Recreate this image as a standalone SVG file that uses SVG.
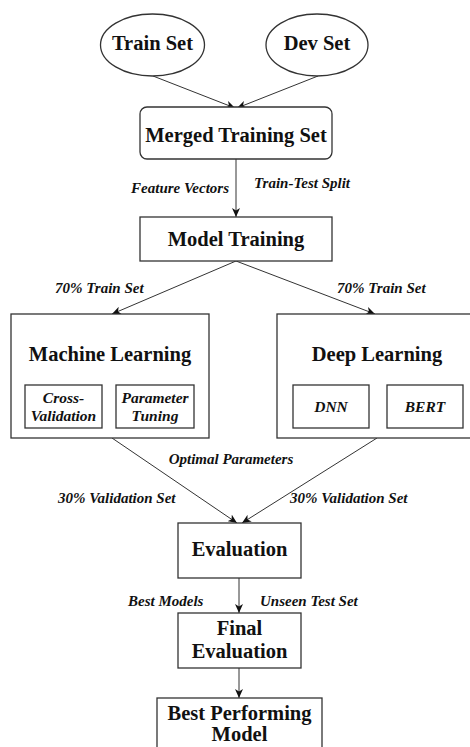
<svg xmlns="http://www.w3.org/2000/svg" width="470" height="747" viewBox="0 0 470 747">
<defs>
<marker id="ah" markerWidth="10" markerHeight="8" refX="9" refY="4" orient="auto" markerUnits="userSpaceOnUse">
<path d="M0,0 L9,4 L0,8 L2.5,4 Z" fill="#111"/>
</marker>
</defs>
<style>
.n{fill:#fff;stroke:#333;stroke-width:1.3}
text{font-family:'Liberation Serif','DejaVu Serif',serif;font-weight:bold;fill:#111}
.t{font-size:20.5px;text-anchor:middle}
.s{font-style:italic;font-size:15.5px;text-anchor:middle}
.l{font-style:italic;font-size:15px}
.c{fill:none;stroke:#333;stroke-width:1}
</style>
<rect width="470" height="747" fill="#fff"/>
<g id="connectors">
<line class="c" x1="153" y1="76" x2="235" y2="108" marker-end="url(#ah)"/>
<line class="c" x1="318" y1="76" x2="237" y2="108" marker-end="url(#ah)"/>
<line class="c" x1="236" y1="159" x2="236" y2="217" marker-end="url(#ah)"/>
<line class="c" x1="236" y1="261" x2="112" y2="314" marker-end="url(#ah)"/>
<line class="c" x1="236" y1="261" x2="375" y2="314" marker-end="url(#ah)"/>
<line class="c" x1="112" y1="438" x2="237" y2="523" marker-end="url(#ah)"/>
<line class="c" x1="377" y1="438" x2="242" y2="523" marker-end="url(#ah)"/>
<line class="c" x1="239" y1="578" x2="239" y2="613" marker-end="url(#ah)"/>
<line class="c" x1="239" y1="668" x2="239" y2="698" marker-end="url(#ah)"/>
<text class="l" x="229" y="193" text-anchor="end">Feature Vectors</text>
<text class="l" x="254" y="188">Train-Test Split</text>
<text class="l" x="55" y="293">70% Train Set</text>
<text class="l" x="337" y="293">70% Train Set</text>
<text class="l" x="231" y="464" text-anchor="middle">Optimal Parameters</text>
<text class="l" x="58" y="503">30% Validation Set</text>
<text class="l" x="290" y="503">30% Validation Set</text>
<text class="l" x="128" y="606">Best Models</text>
<text class="l" x="260" y="606">Unseen Test Set</text>
</g>
<g id="train-set">
<ellipse class="n" cx="152.5" cy="45" rx="52" ry="31"/>
<text class="t" x="152.5" y="50">Train Set</text>
</g>
<g id="dev-set">
<ellipse class="n" cx="317" cy="45" rx="51" ry="31"/>
<text class="t" x="317" y="50">Dev Set</text>
</g>
<g id="merged">
<rect class="n" x="140" y="107" width="192" height="52" rx="7"/>
<text class="t" x="236" y="142">Merged Training Set</text>
</g>
<g id="model-training">
<rect class="n" x="140" y="217" width="192" height="44"/>
<text class="t" x="236" y="246">Model Training</text>
</g>
<g id="machine-learning">
<rect class="n" x="11" y="314" width="198" height="124"/>
<text class="t" x="110" y="361">Machine Learning</text>
</g>
<g id="cross-validation">
<rect class="n" x="25" y="385" width="77" height="43"/>
<text class="s" x="63.5" y="403">Cross-</text>
<text class="s" x="63.5" y="421">Validation</text>
</g>
<g id="parameter-tuning">
<rect class="n" x="116" y="385" width="78" height="43"/>
<text class="s" x="155" y="403">Parameter</text>
<text class="s" x="155" y="421">Tuning</text>
</g>
<g id="deep-learning">
<rect class="n" x="277" y="314" width="198" height="124"/>
<text class="t" x="377" y="361">Deep Learning</text>
</g>
<g id="dnn">
<rect class="n" x="293" y="385" width="76" height="43"/>
<text class="s" x="331" y="412">DNN</text>
</g>
<g id="bert">
<rect class="n" x="387" y="385" width="76" height="43"/>
<text class="s" x="425" y="412">BERT</text>
</g>
<g id="evaluation">
<rect class="n" x="178" y="523" width="123" height="55"/>
<text class="t" x="239.5" y="556">Evaluation</text>
</g>
<g id="final-evaluation">
<rect class="n" x="178" y="613" width="123" height="55"/>
<text class="t" x="239.5" y="635">Final</text>
<text class="t" x="239.5" y="658">Evaluation</text>
</g>
<g id="best-performing">
<rect class="n" x="157" y="698" width="165" height="60"/>
<text class="t" x="239.5" y="720">Best Performing</text>
<text class="t" x="239.5" y="741">Model</text>
</g>
</svg>
